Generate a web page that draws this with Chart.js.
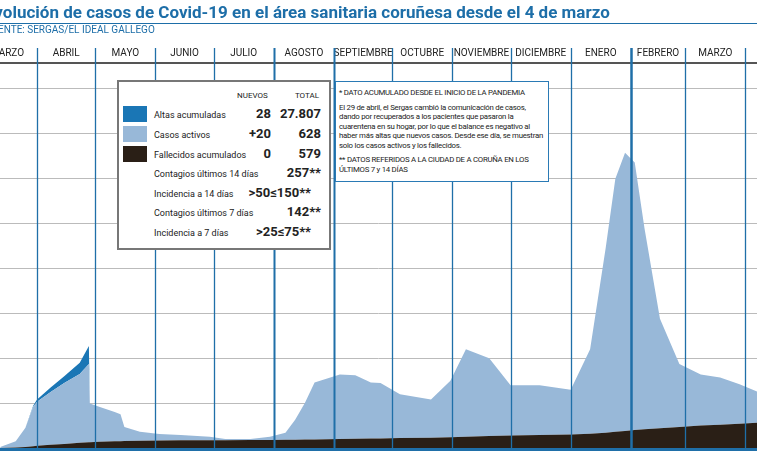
<!DOCTYPE html>
<html>
<head>
<meta charset="utf-8">
<script src="https://cdn.jsdelivr.net/npm/chart.js@4"></script>
<style>
  body { margin: 0; background: #fff; font-family: "Roboto", sans-serif; }
  #wrap { position: relative; width: 757px; height: 463px; overflow: hidden; }
  #title { position: absolute; left: -15px; top: 2px; font: bold 17px "Roboto", sans-serif; color: #1d6ea8; white-space: nowrap; }
  #rule { position: absolute; left: 0; top: 23px; width: 757px; height: 1px; background: #1d6ea8; }
  #source { position: absolute; left: -14px; top: 24px; font-size: 10px; color: #1d6ea8; }
  .box { position: absolute; background: #fff; font-size: 9px; color: #222; }
  #info { left: 117px; top: 80px; width: 210px; height: 166px; border: 2px solid #777; }
  #note { left: 335px; top: 81px; width: 206px; height: 99px; border: 1.5px solid #2a7ab5; padding: 0 3px; line-height: 9.5px; font-size: 7.8px; letter-spacing: -0.25px; }
  .row { position: absolute; left: 0; width: 100%; height: 18px; }
  .sw { position: absolute; left: 4px; width: 24px; height: 16px; }
  .lbl { position: absolute; left: 35px; top: 4px; }
  .nv { position: absolute; right: 58px; top: 0; font: bold 13px "Roboto", sans-serif; }
  .tt { position: absolute; right: 8px; top: 0; font: bold 13px "Roboto", sans-serif; }
  canvas { position: absolute; left: 0; top: 0; }
</style>
</head>
<body>
<div id="wrap">
  <canvas id="c" width="757" height="463"></canvas>
  <div id="title">Evolución de casos de Covid-19 en el área sanitaria coruñesa desde el 4 de marzo</div>
  <div id="rule"></div>
  <div id="source">FUENTE: SERGAS/EL IDEAL GALLEGO</div>
  <div id="info" class="box">
    <div style="position:absolute;left:118px;top:9px;font-size:8px">NUEVOS</div>
    <div style="position:absolute;right:10px;top:9px;font-size:8px">TOTAL</div>
    <div class="row" style="top:24px"><div class="sw" style="background:#1a76b5"></div><span class="lbl">Altas acumuladas</span><span class="nv">28</span><span class="tt">27.807</span></div>
    <div class="row" style="top:44px"><div class="sw" style="background:#98b8d8"></div><span class="lbl">Casos activos</span><span class="nv">+20</span><span class="tt">628</span></div>
    <div class="row" style="top:64px"><div class="sw" style="background:#2a1f16"></div><span class="lbl">Fallecidos acumulados</span><span class="nv">0</span><span class="tt">579</span></div>
    <div class="row" style="top:83px"><span class="lbl">Contagios últimos 14 días</span><span class="tt">257**</span></div>
    <div class="row" style="top:103px"><span class="lbl">Incidencia a 14 días</span><span class="tt" style="right:18px">&gt;50≤150**</span></div>
    <div class="row" style="top:122px"><span class="lbl">Contagios últimos 7 días</span><span class="tt">142**</span></div>
    <div class="row" style="top:142px"><span class="lbl">Incidencia a 7 días</span><span class="tt" style="right:18px">&gt;25≤75**</span></div>
  </div>
  <div id="note" class="box">
    <p style="margin:6px 0 5px">* DATO ACUMULADO DESDE EL INICIO DE LA PANDEMIA</p>
    <p style="margin:0 0 5px">El 29 de abril, el Sergas cambió la comunicación de casos, dando por recuperados a los pacientes que pasaron la cuarentena en su hogar, por lo que el balance es negativo al haber más altas que nuevos casos. Desde ese día, se muestran solo los casos activos y los fallecidos.</p>
    <p style="margin:0">** DATOS REFERIDOS A LA CIUDAD DE A CORUÑA EN LOS ÚLTIMOS 7 y 14 DÍAS</p>
  </div>
</div>
<script>
// days counted from 1 March 2020
const days = [12,20,25,29,31,38,45,53,57.7,58.2,63,71,74,76,84,94,105,120,128,141,151,159,164,169,174,187,195,203,208,218,234,244,252,264,275,290,306,316,324,329,334,339,344,352,362,373,383,393,402];
const fallecidos = [0,10,20,40,50,70,90,115,130,130,140,150,150,155,160,165,170,175,175,180,180,185,185,190,190,200,205,210,210,220,230,240,250,265,280,290,300,320,340,360,380,400,420,440,470,500,520,540,560];
const activos = [20,140,430,880,980,1180,1360,1535,1740,860,780,650,600,315,200,145,120,75,25,20,70,155,445,810,1270,1440,1415,1250,1240,980,850,1260,1950,1735,1120,1110,1000,1880,4110,5640,6200,5960,4480,2440,1400,1140,1050,880,700];
const altas = [0,0,0,20,50,100,150,250,400,0,0,0,0,0,0,0,0,0,0,0,0,0,0,0,0,0,0,0,0,0,0,0,0,0,0,0,0,0,0,0,0,0,0,0,0,0,0,0,0];
const monthStarts = [0,31,61,92,122,153,184,214,245,275,306,337,365,396,426];
const monthNames = ['MARZO','ABRIL','MAYO','JUNIO','JULIO','AGOSTO','SEPTIEMBRE','OCTUBRE','NOVIEMBRE','DICIEMBRE','ENERO','FEBRERO','MARZO','ABRIL'];

const pts = arr => arr.map((v, i) => ({ x: days[i], y: v }));
const area = (label, arr, color) => ({ label, data: pts(arr), backgroundColor: color, borderWidth: 0, pointRadius: 0, fill: 'stack', tension: 0 });

const months = {
  id: 'months',
  beforeDatasetsDraw(chart) {
    const { ctx, scales: { x } } = chart;
    ctx.save();
    ctx.fillStyle = '#fff';
    ctx.fillRect(0, 40, 757, 23);
    ctx.fillStyle = '#555';
    ctx.fillRect(0, 62, 757, 2);
    ctx.font = '10px Roboto, sans-serif';
    ctx.fillStyle = '#222';
    ctx.textAlign = 'center';
    for (let i = 0; i < monthNames.length; i++) {
      const c = (x.getPixelForValue(monthStarts[i]) + x.getPixelForValue(monthStarts[i + 1])) / 2;
      ctx.fillText(monthNames[i], c, 56);
    }
    ctx.restore();
  },
  afterDatasetsDraw(chart) {
    const { ctx, scales: { x }, chartArea } = chart;
    ctx.save();
    ctx.strokeStyle = '#1f6fa8';
    for (let i = 1; i < monthStarts.length; i++) {
      const px = Math.round(x.getPixelForValue(monthStarts[i])) + 0.5;
      ctx.lineWidth = i === 11 ? 2.5 : (i === 5 || i === 6 ? 2 : 1.3);
      ctx.beginPath();
      ctx.moveTo(px, 48);
      ctx.lineTo(px, chartArea.bottom);
      ctx.stroke();
    }
    ctx.fillStyle = '#1f6fa8';
    ctx.fillRect(0, chartArea.bottom, 757, 3);
    ctx.restore();
  }
};

new Chart(document.getElementById('c'), {
  type: 'line',
  data: {
    datasets: [
      area('Fallecidos acumulados', fallecidos, '#2a1f16'),
      area('Casos activos', activos, '#98b8d8'),
      area('Altas acumuladas', altas, '#1a76b5')
    ]
  },
  options: {
    responsive: false,
    animation: false,
    layout: { padding: { top: 44, bottom: 15, left: 0, right: 0 } },
    plugins: { legend: { display: false }, tooltip: { enabled: false } },
    scales: {
      x: { type: 'linear', min: 11.9, max: 402, display: false },
      y: {
        stacked: true, min: 0, max: 9000,
        ticks: { display: false, stepSize: 1000 },
        border: { display: false },
        grid: { color: '#bbb', lineWidth: 1, drawTicks: false, tickLength: 0 }
      }
    }
  },
  plugins: [months]
});
</script>
</body>
</html>
